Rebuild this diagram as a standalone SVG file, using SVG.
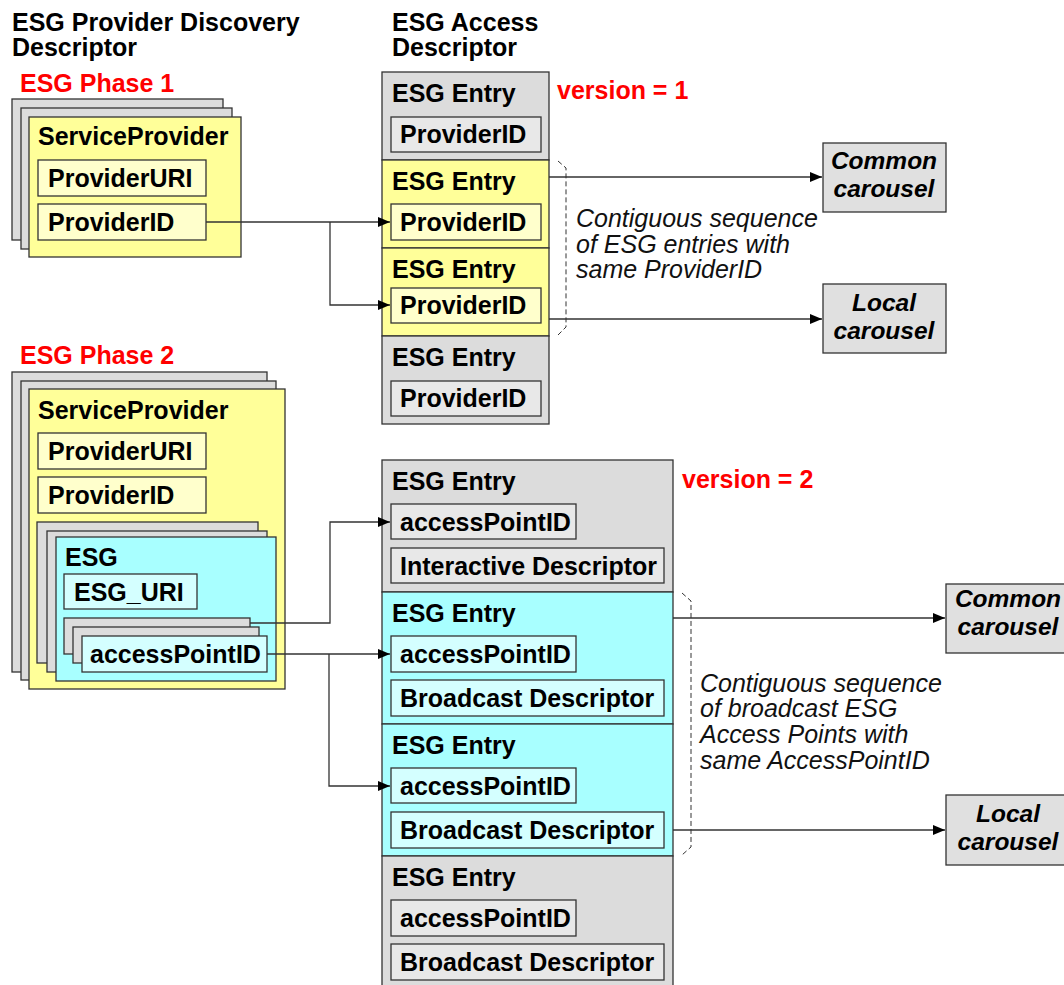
<svg xmlns="http://www.w3.org/2000/svg" width="1064" height="985" viewBox="0 0 1064 985">
<style>
text{font-family:"Liberation Sans",Arial,sans-serif;font-size:25px;fill:#000}
.b{font-weight:bold}
.it{font-style:italic;fill:#111}
.bi{font-weight:bold;font-style:italic;text-anchor:middle;font-size:24.5px}
.red{fill:#ff0000;font-weight:bold}
rect{stroke:#333;stroke-width:1.3}
.bg{fill:#fff;stroke:none}
.g{fill:#dcdcdc}
.gi{fill:#e8e8e8}
.y{fill:#ffff99}
.yi{fill:#ffffcc}
.c{fill:#a8ffff}
.ci{fill:#d4ffff}
.cb{fill:#e0e0e0}
.ln{fill:none;stroke:#333;stroke-width:1.3}
.dash{fill:none;stroke:#333;stroke-width:1;stroke-dasharray:5,3}
</style>
<defs>
<marker id="ah" markerUnits="userSpaceOnUse" markerWidth="14" markerHeight="12" refX="12" refY="5" orient="auto">
<path d="M0,0 L12,5 L0,10 z" fill="#000"/>
</marker>
</defs>
<rect class="bg" width="1064" height="985"/>

<g id="titles">
<text class="b" x="12" y="31">ESG Provider Discovery</text>
<text class="b" x="12" y="56">Descriptor</text>
<text class="b" x="392" y="31">ESG Access</text>
<text class="b" x="392" y="56">Descriptor</text>
<text class="red" x="20" y="92">ESG Phase 1</text>
<text class="red" x="20" y="364">ESG Phase 2</text>
<text class="red" x="557" y="99">version = 1</text>
<text class="red" x="682" y="488">version = 2</text>
</g>

<g id="phase1-provider">
<rect class="g" x="12" y="99" width="211" height="141"/>
<rect class="g" x="21" y="108" width="211" height="141"/>
<rect class="y" x="29" y="117" width="212" height="140"/>
<text class="b" x="38" y="145">ServiceProvider</text>
<rect class="yi" x="38" y="160" width="168" height="36"/>
<text class="b" x="48" y="187">ProviderURI</text>
<rect class="yi" x="38" y="204" width="168" height="36"/>
<text class="b" x="48" y="231">ProviderID</text>
</g>

<g id="phase1-access">
<rect class="g" x="382" y="72" width="167" height="88"/>
<text class="b" x="392" y="102">ESG Entry</text>
<rect class="gi" x="391" y="117" width="150" height="35"/>
<text class="b" x="400" y="143">ProviderID</text>
<rect class="y" x="382" y="160" width="167" height="88"/>
<text class="b" x="392" y="190">ESG Entry</text>
<rect class="yi" x="391" y="204" width="150" height="36"/>
<text class="b" x="400" y="231">ProviderID</text>
<rect class="y" x="382" y="248" width="167" height="88"/>
<text class="b" x="392" y="278">ESG Entry</text>
<rect class="yi" x="391" y="288" width="150" height="35"/>
<text class="b" x="400" y="314">ProviderID</text>
<rect class="g" x="382" y="336" width="167" height="88"/>
<text class="b" x="392" y="366">ESG Entry</text>
<rect class="gi" x="391" y="381" width="150" height="35"/>
<text class="b" x="400" y="407">ProviderID</text>
</g>

<g id="phase1-common">
<rect class="cb" x="823" y="143" width="123" height="69"/>
<text class="bi" x="884" y="169">Common</text>
<text class="bi" x="884" y="197">carousel</text>
</g>
<g id="phase1-local">
<rect class="cb" x="823" y="284" width="123" height="69"/>
<text class="bi" x="884" y="311">Local</text>
<text class="bi" x="884" y="339">carousel</text>
</g>
<g id="phase1-note">
<path class="dash" d="M558,161 L566,168 L566,327 L558,335"/>
<text class="it" x="576" y="227">Contiguous sequence</text>
<text class="it" x="576" y="253">of ESG entries with</text>
<text class="it" x="576" y="278">same ProviderID</text>
</g>

<g id="phase2-provider">
<rect class="g" x="12" y="372" width="255" height="300"/>
<rect class="g" x="21" y="381" width="255" height="299"/>
<rect class="y" x="29" y="389" width="256" height="300"/>
<text class="b" x="38" y="419">ServiceProvider</text>
<rect class="yi" x="38" y="433" width="168" height="36"/>
<text class="b" x="48" y="460">ProviderURI</text>
<rect class="yi" x="38" y="477" width="168" height="36"/>
<text class="b" x="48" y="504">ProviderID</text>
<g id="phase2-esg">
<rect class="g" x="37" y="522" width="221" height="141"/>
<rect class="g" x="47" y="531" width="220" height="141"/>
<rect class="c" x="56" y="537" width="220" height="144"/>
<text class="b" x="65" y="566">ESG</text>
<rect class="ci" x="64" y="574" width="133" height="35"/>
<text class="b" x="74" y="601">ESG_URI</text>
<rect class="g" x="64" y="618" width="186" height="36"/>
<rect class="g" x="73" y="627" width="186" height="36"/>
<rect class="ci" x="82" y="636" width="185" height="36"/>
<text class="b" x="90" y="663">accessPointID</text>
</g>
</g>

<g id="phase2-access">
<rect class="g" x="382" y="460" width="291" height="132"/>
<text class="b" x="392" y="490">ESG Entry</text>
<rect class="gi" x="391" y="504" width="185" height="35"/>
<text class="b" x="400" y="531">accessPointID</text>
<rect class="gi" x="391" y="548" width="273" height="35"/>
<text class="b" x="400" y="575">Interactive Descriptor</text>
<rect class="c" x="382" y="592" width="291" height="132"/>
<text class="b" x="392" y="622">ESG Entry</text>
<rect class="ci" x="391" y="636" width="185" height="36"/>
<text class="b" x="400" y="663">accessPointID</text>
<rect class="ci" x="391" y="680" width="273" height="36"/>
<text class="b" x="400" y="707">Broadcast Descriptor</text>
<rect class="c" x="382" y="724" width="291" height="132"/>
<text class="b" x="392" y="754">ESG Entry</text>
<rect class="ci" x="391" y="768" width="185" height="35"/>
<text class="b" x="400" y="795">accessPointID</text>
<rect class="ci" x="391" y="812" width="273" height="36"/>
<text class="b" x="400" y="839">Broadcast Descriptor</text>
<rect class="g" x="382" y="856" width="291" height="135"/>
<text class="b" x="392" y="886">ESG Entry</text>
<rect class="gi" x="391" y="900" width="185" height="36"/>
<text class="b" x="400" y="927">accessPointID</text>
<rect class="gi" x="391" y="944" width="273" height="36"/>
<text class="b" x="400" y="971">Broadcast Descriptor</text>
</g>

<g id="phase2-common">
<rect class="cb" x="946" y="584" width="124" height="69"/>
<text class="bi" x="1008" y="607">Common</text>
<text class="bi" x="1008" y="635">carousel</text>
</g>
<g id="phase2-local">
<rect class="cb" x="946" y="795" width="124" height="70"/>
<text class="bi" x="1008" y="822">Local</text>
<text class="bi" x="1008" y="850">carousel</text>
</g>
<g id="phase2-note">
<path class="dash" d="M682,593 L691,601 L691,847 L682,855"/>
<text class="it" x="700" y="692">Contiguous sequence</text>
<text class="it" x="700" y="717">of broadcast ESG</text>
<text class="it" x="700" y="743">Access Points with</text>
<text class="it" x="700" y="769">same AccessPointID</text>
</g>

<g id="connectors">
<path class="ln" d="M206,222 L390,222" marker-end="url(#ah)"/>
<path class="ln" d="M330,222 L330,305 L390,305" marker-end="url(#ah)"/>
<path class="ln" d="M549,177 L822,177" marker-end="url(#ah)"/>
<path class="ln" d="M549,319 L822,319" marker-end="url(#ah)"/>
<path class="ln" d="M250,623 L330,623 L330,522 L390,522" marker-end="url(#ah)"/>
<path class="ln" d="M267,654 L390,654" marker-end="url(#ah)"/>
<path class="ln" d="M329,654 L329,786 L390,786" marker-end="url(#ah)"/>
<path class="ln" d="M673,618 L945,618" marker-end="url(#ah)"/>
<path class="ln" d="M673,830 L945,830" marker-end="url(#ah)"/>
</g>
</svg>
